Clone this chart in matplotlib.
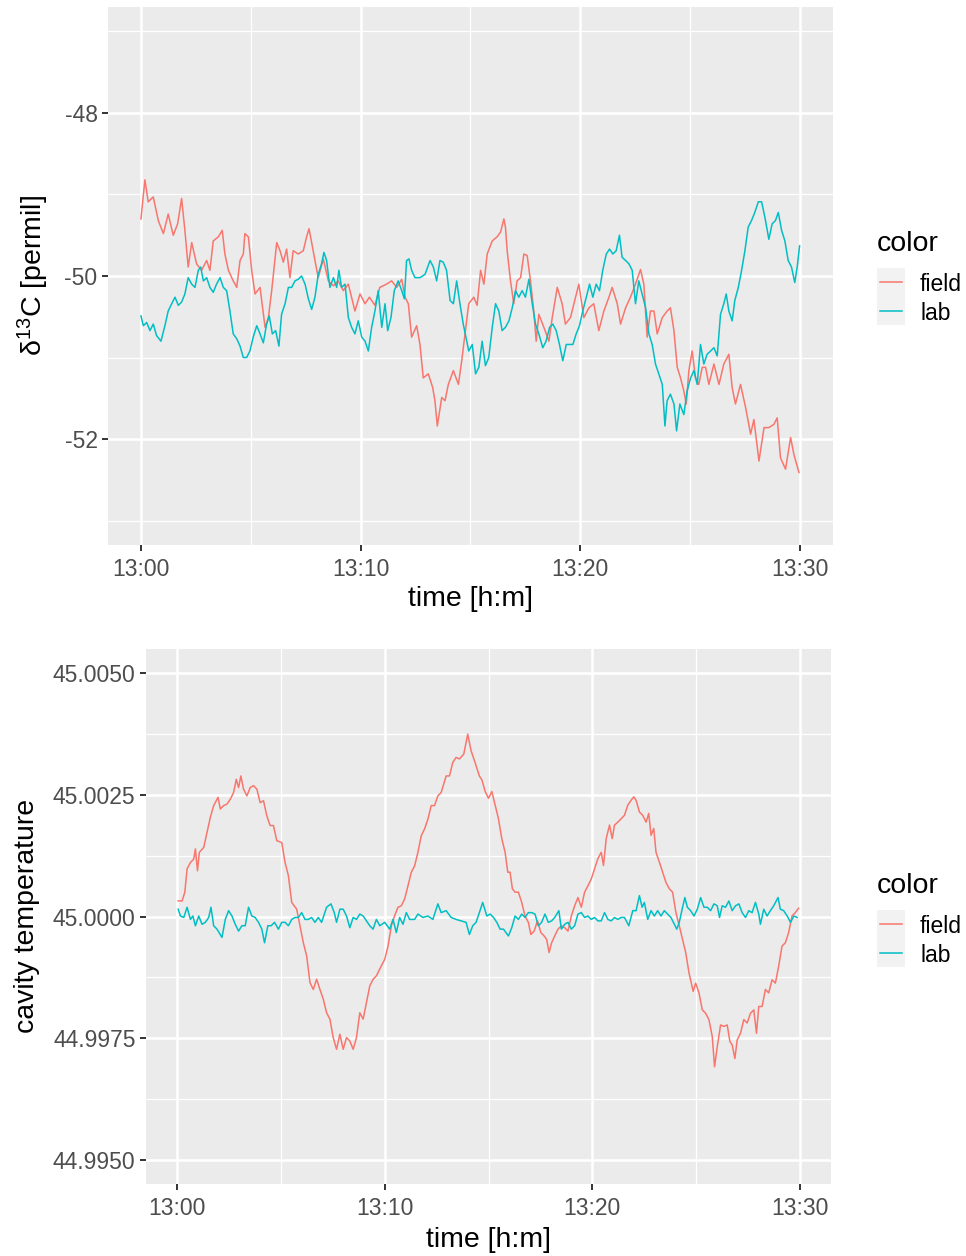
import matplotlib
matplotlib.use('Agg')
import matplotlib.pyplot as plt
from matplotlib.lines import Line2D
from matplotlib.patches import Rectangle

plt.rcParams['font.family'] = ['Liberation Sans', 'DejaVu Sans']
plt.rcParams['axes.unicode_minus'] = False

# ---------------- data (time in minutes after 13:00) ----------------
tick_minutes = [0, 10, 20, 30]
tick_labels = ['13:00', '13:10', '13:20', '13:30']
minor_minutes = [5, 15, 25]

d13c_field = [
    (0, -49.30), (0.18, -48.82), (0.33, -49.09), (0.56, -49.03), (0.79, -49.32), (1.02, -49.48),
    (1.24, -49.24), (1.47, -49.50), (1.67, -49.36), (1.85, -49.05), (2.0, -49.44), (2.15, -49.89),
    (2.31, -49.59), (2.53, -49.85), (2.76, -49.93), (2.99, -49.81), (3.14, -49.93), (3.29, -49.57),
    (3.52, -49.52), (3.70, -49.44), (3.82, -49.73), (3.98, -49.93), (4.20, -50.06), (4.36, -50.14),
    (4.51, -49.81), (4.66, -49.73), (4.73, -49.48), (4.89, -49.52), (5.04, -49.93), (5.19, -50.22),
    (5.42, -50.14), (5.65, -50.63), (5.80, -50.51), (5.95, -50.18), (6.18, -49.59), (6.33, -49.69),
    (6.48, -49.83), (6.63, -49.67), (6.78, -50.02), (6.93, -49.69), (7.16, -49.73), (7.39, -49.69),
    (7.54, -49.52), (7.65, -49.42), (7.77, -49.59), (7.92, -49.81), (8.07, -50.02), (8.30, -49.79),
    (8.53, -50.06), (8.76, -50.12), (8.98, -50.06), (9.21, -50.18), (9.44, -50.10), (9.74, -50.43),
    (9.97, -50.22), (10.2, -50.34), (10.4, -50.26), (10.65, -50.36), (10.87, -50.14), (11.18, -50.10),
    (11.41, -50.06), (11.64, -50.14), (11.87, -50.04), (12.02, -50.26), (12.17, -50.34), (12.32, -50.75),
    (12.55, -50.61), (12.70, -50.84), (12.85, -51.25), (13.08, -51.20), (13.28, -51.37), (13.38, -51.53),
    (13.49, -51.84), (13.69, -51.49), (13.84, -51.53), (13.99, -51.33), (14.22, -51.16), (14.45, -51.33),
    (14.60, -51.04), (14.75, -50.71), (14.92, -50.34), (15.15, -50.26), (15.30, -50.36), (15.46, -49.93),
    (15.61, -50.10), (15.76, -49.73), (15.99, -49.57), (16.21, -49.52), (16.37, -49.46), (16.52, -49.30),
    (16.59, -49.40), (16.67, -49.69), (16.82, -50.06), (16.97, -50.34), (17.12, -50.06), (17.28, -50.02),
    (17.43, -49.73), (17.58, -49.75), (17.73, -50.06), (17.88, -50.43), (17.99, -50.80), (18.11, -50.47),
    (18.34, -50.63), (18.57, -50.80), (18.72, -50.51), (18.95, -50.14), (19.17, -50.34), (19.32, -50.59),
    (19.55, -50.51), (19.78, -50.26), (19.93, -50.10), (20.16, -50.51), (20.39, -50.39), (20.61, -50.34),
    (20.84, -50.67), (21.07, -50.43), (21.30, -50.26), (21.45, -50.14), (21.68, -50.34), (21.83, -50.59),
    (22.06, -50.39), (22.28, -50.26), (22.51, -50.10), (22.74, -49.92), (22.89, -50.10), (23.04, -50.75),
    (23.19, -50.43), (23.35, -50.43), (23.50, -50.71), (23.73, -50.51), (23.95, -50.43), (24.10, -50.39),
    (24.26, -50.67), (24.41, -51.12), (24.56, -51.25), (24.71, -51.41), (24.82, -51.57), (24.94, -51.16),
    (25.09, -50.92), (25.24, -51.25), (25.39, -51.33), (25.55, -51.12), (25.70, -51.12), (25.85, -51.33),
    (26.08, -51.08), (26.31, -51.33), (26.53, -51.08), (26.76, -50.96), (26.91, -51.37), (27.06, -51.57),
    (27.29, -51.33), (27.52, -51.61), (27.75, -51.94), (27.90, -51.76), (28.13, -52.27), (28.36, -51.86),
    (28.58, -51.86), (28.81, -51.82), (28.96, -51.74), (29.11, -52.23), (29.34, -52.37), (29.57, -51.98),
    (29.72, -52.19), (29.95, -52.41),
]

d13c_lab = [
    (0, -50.49), (0.11, -50.61), (0.26, -50.57), (0.41, -50.67), (0.56, -50.59), (0.71, -50.73),
    (0.91, -50.80), (1.09, -50.61), (1.24, -50.43), (1.40, -50.34), (1.55, -50.26), (1.70, -50.36),
    (1.85, -50.32), (2.00, -50.22), (2.15, -50.02), (2.31, -50.10), (2.46, -50.14), (2.61, -49.93),
    (2.72, -49.89), (2.84, -50.06), (2.99, -50.02), (3.14, -50.14), (3.29, -50.20), (3.44, -50.10),
    (3.60, -50.02), (3.75, -50.14), (3.90, -50.18), (4.05, -50.43), (4.20, -50.71), (4.36, -50.77),
    (4.51, -50.86), (4.66, -51.00), (4.81, -51.00), (4.96, -50.92), (5.11, -50.75), (5.27, -50.61),
    (5.42, -50.71), (5.57, -50.82), (5.72, -50.59), (5.84, -50.49), (5.98, -50.71), (6.13, -50.67),
    (6.28, -50.86), (6.40, -50.47), (6.56, -50.34), (6.71, -50.14), (6.86, -50.14), (7.01, -50.06),
    (7.16, -50.04), (7.31, -50.00), (7.47, -50.10), (7.62, -50.28), (7.77, -50.41), (7.92, -50.26),
    (8.07, -49.98), (8.22, -49.85), (8.33, -49.71), (8.45, -49.81), (8.60, -50.14), (8.76, -50.02),
    (8.91, -50.14), (9.01, -49.93), (9.13, -50.14), (9.29, -50.10), (9.44, -50.51), (9.59, -50.63),
    (9.74, -50.71), (9.89, -50.55), (10.05, -50.75), (10.20, -50.80), (10.35, -50.92), (10.50, -50.63),
    (10.65, -50.43), (10.80, -50.18), (10.96, -50.63), (11.11, -50.34), (11.23, -50.67), (11.38, -50.51),
    (11.53, -50.18), (11.71, -50.06), (11.87, -50.18), (11.99, -50.28), (12.09, -49.81), (12.20, -49.79),
    (12.32, -49.93), (12.47, -50.02), (12.70, -50.02), (12.93, -49.98), (13.16, -49.81), (13.31, -49.89),
    (13.46, -50.06), (13.61, -49.81), (13.76, -49.83), (13.91, -49.93), (14.07, -50.30), (14.22, -50.34),
    (14.37, -50.06), (14.52, -50.34), (14.67, -50.59), (14.92, -50.92), (15.08, -50.84), (15.23, -51.20),
    (15.38, -51.12), (15.53, -50.80), (15.68, -51.10), (15.83, -51.00), (15.99, -50.63), (16.14, -50.34),
    (16.29, -50.43), (16.44, -50.67), (16.59, -50.63), (16.75, -50.55), (16.90, -50.39), (17.05, -50.18),
    (17.20, -50.26), (17.35, -50.18), (17.50, -50.26), (17.66, -50.04), (17.81, -50.34), (17.96, -50.59),
    (18.11, -50.71), (18.29, -50.88), (18.44, -50.80), (18.60, -50.63), (18.75, -50.59), (18.90, -50.67),
    (19.05, -50.84), (19.20, -51.04), (19.36, -50.84), (19.51, -50.84), (19.66, -50.84), (19.81, -50.71),
    (19.96, -50.61), (20.11, -50.43), (20.27, -50.26), (20.42, -50.10), (20.57, -50.26), (20.72, -50.10),
    (20.87, -50.18), (21.02, -49.93), (21.18, -49.73), (21.33, -49.67), (21.48, -49.73), (21.63, -49.69),
    (21.78, -49.50), (21.90, -49.77), (22.06, -49.81), (22.21, -49.85), (22.36, -49.93), (22.51, -50.34),
    (22.66, -50.06), (22.81, -50.22), (22.97, -50.39), (23.12, -50.71), (23.27, -50.84), (23.42, -51.08),
    (23.57, -51.20), (23.73, -51.33), (23.85, -51.84), (23.95, -51.53), (24.10, -51.45), (24.26, -51.57),
    (24.38, -51.90), (24.53, -51.57), (24.71, -51.70), (24.86, -51.41), (25.02, -51.25), (25.17, -51.16),
    (25.32, -51.33), (25.47, -50.84), (25.62, -51.08), (25.77, -50.96), (25.93, -50.92), (26.08, -50.88),
    (26.23, -50.98), (26.38, -50.47), (26.53, -50.34), (26.64, -50.22), (26.76, -50.43), (26.91, -50.55),
    (27.03, -50.30), (27.19, -50.14), (27.34, -49.93), (27.49, -49.69), (27.64, -49.40), (27.79, -49.32),
    (27.94, -49.22), (28.10, -49.09), (28.25, -49.09), (28.40, -49.28), (28.58, -49.55), (28.73, -49.36),
    (28.88, -49.32), (29.01, -49.22), (29.16, -49.44), (29.31, -49.57), (29.46, -49.81), (29.61, -49.89),
    (29.76, -50.08), (29.87, -49.89), (29.98, -49.63),
]

temp_field = [
    (0.05, 45.00032), (0.24, 45.00032), (0.37, 45.00050), (0.48, 45.00098), (0.64, 45.00111), (0.80, 45.00118),
    (0.88, 45.00139), (0.98, 45.00094), (1.07, 45.00132), (1.28, 45.00142), (1.44, 45.00173), (1.60, 45.00204),
    (1.76, 45.00228), (1.97, 45.00245), (2.08, 45.00221), (2.24, 45.00228), (2.40, 45.00231), (2.56, 45.00241),
    (2.72, 45.00255), (2.85, 45.00282), (2.96, 45.00265), (3.07, 45.00289), (3.20, 45.00262), (3.36, 45.00248),
    (3.52, 45.00265), (3.68, 45.00269), (3.84, 45.00262), (4.00, 45.00234), (4.16, 45.00238), (4.32, 45.00207),
    (4.48, 45.00187), (4.64, 45.00187), (4.80, 45.00156), (5.04, 45.00152), (5.20, 45.00111), (5.36, 45.00084),
    (5.52, 45.00029), (5.76, 45.00015), (5.92, 44.99981), (6.08, 44.99946), (6.24, 44.99919), (6.40, 44.99864),
    (6.56, 44.99850), (6.72, 44.99871), (6.88, 44.99850), (7.04, 44.99830), (7.20, 44.99802), (7.36, 44.99789),
    (7.52, 44.99751), (7.68, 44.99727), (7.84, 44.99758), (8.00, 44.99727), (8.16, 44.99751), (8.32, 44.99744),
    (8.48, 44.99727), (8.64, 44.99751), (8.80, 44.99802), (8.96, 44.99789), (9.12, 44.99823), (9.28, 44.99857),
    (9.44, 44.99871), (9.60, 44.99878), (9.76, 44.99892), (10.00, 44.99912), (10.16, 44.99939), (10.32, 44.99981),
    (10.48, 45.00002), (10.64, 45.00019), (10.80, 45.00022), (10.96, 45.00036), (11.12, 45.00063), (11.28, 45.00091),
    (11.44, 45.00104), (11.60, 45.00132), (11.76, 45.00166), (11.92, 45.00180), (12.08, 45.00200), (12.24, 45.00228),
    (12.40, 45.00228), (12.56, 45.00248), (12.72, 45.00255), (12.96, 45.00289), (13.12, 45.00289), (13.28, 45.00317),
    (13.44, 45.00327), (13.60, 45.00324), (13.81, 45.00334), (14.00, 45.00375), (14.16, 45.00341), (14.35, 45.00317),
    (14.56, 45.00289), (14.68, 45.00281), (14.84, 45.00257), (15.00, 45.00243), (15.16, 45.00257), (15.32, 45.00229),
    (15.48, 45.00201), (15.64, 45.00160), (15.80, 45.00132), (15.93, 45.00091), (16.04, 45.00091), (16.15, 45.00057),
    (16.28, 45.00050), (16.44, 45.00050), (16.60, 45.00029), (16.76, 45.00001), (16.92, 44.99988), (17.04, 44.99963),
    (17.20, 44.99970), (17.36, 44.99991), (17.52, 44.99967), (17.68, 44.99960), (17.80, 44.99953), (17.92, 44.99926),
    (18.04, 44.99946), (18.19, 44.99960), (18.35, 44.99974), (18.51, 44.99981), (18.67, 44.99977), (18.83, 44.99970),
    (18.99, 45.00001), (19.15, 45.00022), (19.31, 45.00039), (19.47, 45.00019), (19.63, 45.00050), (19.79, 45.00063),
    (19.95, 45.00077), (20.11, 45.00098), (20.27, 45.00119), (20.43, 45.00132), (20.54, 45.00105), (20.67, 45.00160),
    (20.83, 45.00188), (20.96, 45.00160), (21.07, 45.00188), (21.23, 45.00194), (21.39, 45.00201), (21.55, 45.00208),
    (21.71, 45.00229), (21.87, 45.00239), (22.00, 45.00246), (22.11, 45.00239), (22.27, 45.00215), (22.43, 45.00208),
    (22.59, 45.00194), (22.72, 45.00212), (22.83, 45.00167), (22.96, 45.00181), (23.07, 45.00132), (23.23, 45.00112),
    (23.39, 45.00091), (23.55, 45.00070), (23.71, 45.00057), (23.87, 45.00050), (24.03, 45.00008), (24.19, 44.99981),
    (24.35, 44.99953), (24.50, 44.99926), (24.66, 44.99884), (24.86, 44.99846), (24.98, 44.99863), (25.14, 44.99843),
    (25.30, 44.99808), (25.46, 44.99801), (25.62, 44.99788), (25.78, 44.99753), (25.89, 44.99691), (26.02, 44.99732),
    (26.18, 44.99777), (26.34, 44.99774), (26.50, 44.99777), (26.63, 44.99743), (26.74, 44.99736), (26.87, 44.99708),
    (26.98, 44.99746), (27.14, 44.99760), (27.30, 44.99788), (27.46, 44.99781), (27.62, 44.99801), (27.78, 44.99808),
    (27.91, 44.99760), (28.02, 44.99815), (28.18, 44.99815), (28.34, 44.99850), (28.50, 44.99843), (28.66, 44.99870),
    (28.82, 44.99863), (28.98, 44.99898), (29.14, 44.99939), (29.30, 44.99946), (29.46, 44.99967), (29.62, 45.00001),
    (29.78, 45.00008), (29.94, 45.00017),
]

temp_lab = [
    (0.05, 45.00015), (0.16, 45.00001), (0.32, 44.99998), (0.48, 45.00019), (0.64, 44.99994), (0.76, 45.00001),
    (0.88, 44.99981), (1.04, 45.00001), (1.20, 44.99984), (1.36, 44.99988), (1.52, 44.99998), (1.63, 45.00019),
    (1.76, 44.99981), (1.92, 44.99974), (2.16, 44.99957), (2.32, 44.99994), (2.48, 45.00012), (2.64, 45.00001),
    (2.80, 44.99984), (2.96, 44.99970), (3.12, 44.99981), (3.28, 44.99981), (3.44, 45.00019), (3.60, 45.00001),
    (3.76, 44.99998), (3.92, 44.99988), (4.08, 44.99974), (4.21, 44.99946), (4.37, 44.99981), (4.53, 44.99981),
    (4.69, 44.99988), (4.88, 44.99974), (5.04, 44.99988), (5.20, 44.99988), (5.36, 44.99981), (5.52, 44.99994),
    (5.68, 44.99998), (5.84, 44.99998), (6.00, 45.00008), (6.16, 44.99994), (6.32, 44.99994), (6.48, 44.99998),
    (6.64, 44.99988), (6.80, 44.99998), (6.96, 44.99988), (7.20, 45.00019), (7.41, 45.00026), (7.57, 45.00008),
    (7.68, 44.99988), (7.84, 45.00015), (8.00, 45.00015), (8.16, 45.00001), (8.32, 44.99977), (8.48, 44.99998),
    (8.64, 44.99994), (8.80, 45.00005), (8.96, 45.00001), (9.12, 44.99991), (9.28, 44.99981), (9.44, 44.99974),
    (9.60, 44.99994), (9.76, 44.99981), (10.00, 44.99988), (10.24, 44.99974), (10.40, 44.99994), (10.56, 44.99967),
    (10.72, 44.99998), (10.88, 44.99984), (11.04, 45.00008), (11.20, 44.99994), (11.44, 44.99994), (11.60, 45.00005),
    (11.84, 44.99998), (12.08, 45.00001), (12.32, 44.99994), (12.56, 45.00026), (12.72, 45.00008), (12.96, 45.00012),
    (13.20, 44.99998), (13.44, 44.99994), (13.68, 44.99991), (13.92, 44.99988), (14.08, 44.99963), (14.24, 44.99981),
    (14.40, 44.99988), (14.56, 45.00008), (14.72, 45.00029), (14.92, 45.00001), (15.08, 45.00005), (15.24, 44.99998),
    (15.40, 44.99988), (15.56, 44.99974), (15.72, 44.99974), (15.96, 44.99960), (16.12, 44.99977), (16.28, 45.00001),
    (16.44, 44.99994), (16.60, 45.00005), (16.76, 44.99998), (16.92, 45.00008), (17.08, 45.00008), (17.24, 45.00005),
    (17.40, 44.99981), (17.56, 44.99988), (17.72, 45.00005), (17.88, 44.99988), (18.04, 44.99991), (18.19, 44.99998),
    (18.39, 45.00012), (18.51, 44.99974), (18.67, 44.99984), (18.83, 44.99988), (18.99, 44.99974), (19.15, 44.99981),
    (19.31, 45.00005), (19.47, 45.00008), (19.63, 44.99998), (19.79, 45.00001), (19.95, 44.99994), (20.11, 44.99998),
    (20.27, 44.99991), (20.43, 44.99991), (20.59, 45.00008), (20.75, 44.99994), (20.91, 44.99991), (21.07, 44.99998),
    (21.23, 44.99994), (21.39, 44.99998), (21.55, 44.99998), (21.76, 44.99981), (21.95, 45.00012), (22.11, 45.00012),
    (22.27, 45.00043), (22.40, 45.00019), (22.51, 45.00029), (22.67, 44.99994), (22.83, 45.00012), (22.99, 45.00001),
    (23.15, 45.00012), (23.31, 45.00001), (23.47, 45.00012), (23.63, 45.00005), (23.79, 44.99998), (23.95, 44.99984),
    (24.07, 44.99974), (24.19, 44.99988), (24.35, 45.00019), (24.46, 45.00039), (24.58, 45.00019), (24.74, 45.00012),
    (24.90, 45.00001), (25.06, 45.00015), (25.22, 45.00039), (25.38, 45.00019), (25.54, 45.00019), (25.70, 45.00012),
    (25.86, 45.00026), (26.02, 45.00022), (26.13, 44.99998), (26.26, 45.00022), (26.42, 45.00019), (26.58, 45.00032),
    (26.74, 45.00012), (26.90, 45.00022), (27.06, 45.00026), (27.22, 45.00008), (27.38, 44.99998), (27.54, 45.00012),
    (27.70, 45.00008), (27.86, 45.00029), (28.02, 45.00005), (28.10, 44.99984), (28.26, 45.00015), (28.42, 45.00001),
    (28.58, 45.00012), (28.74, 45.00022), (28.95, 45.00039), (29.06, 45.00015), (29.22, 45.00012), (29.39, 45.00001),
    (29.55, 44.99988), (29.71, 45.00001), (29.87, 44.99998),
]

series_names = ['field', 'lab']
series_colors = ['#F8766D', '#00BFC4']

# ---------------- layout ----------------
W, H = 966, 1256
fig = plt.figure(figsize=(W / 100, H / 100), dpi=100)


def box(l, t, r, b):
    return [l / W, 1 - b / H, (r - l) / W, (b - t) / H]


ax1 = fig.add_axes(box(108, 7, 833, 545))
ax2 = fig.add_axes(box(146, 649, 831, 1184))


def style(ax):
    ax.set_facecolor('#EBEBEB')
    for s in ax.spines.values():
        s.set_visible(False)
    ax.set_axisbelow(True)
    ax.grid(which='major', color='white', linewidth=1.8)
    ax.grid(which='minor', color='white', linewidth=0.9)
    ax.tick_params(which='major', length=4.5, width=1.4, color='#333333',
                   labelsize=16.5, labelcolor='#4D4D4D')
    ax.tick_params(axis='x', which='major', pad=5)
    ax.tick_params(axis='y', which='major', pad=3)
    ax.tick_params(which='minor', length=0)
    ax.set_xticks(tick_minutes)
    ax.set_xticklabels(tick_labels)
    ax.set_xticks(minor_minutes, minor=True)
    ax.set_xlim(-1.5, 31.5)


style(ax1)
style(ax2)

for data, c in zip([d13c_field, d13c_lab], series_colors):
    ax1.plot([p[0] for p in data], [p[1] for p in data], color=c, lw=1.1)
ax1.set_ylim(-53.3, -46.7)
ax1.set_yticks([-52, -50, -48])
ax1.set_yticklabels(['-52', '-50', '-48'])
ax1.set_yticks([-53, -51, -49, -47], minor=True)

for data, c in zip([temp_field, temp_lab], series_colors):
    ax2.plot([p[0] for p in data], [p[1] for p in data], color=c, lw=1.1)
ax2.set_ylim(44.9945, 45.0055)
yt2 = [44.995, 44.9975, 45.0, 45.0025, 45.005]
ax2.set_yticks(yt2)
ax2.set_yticklabels(['%.4f' % v for v in yt2])
ax2.set_yticks([44.99625, 44.99875, 45.00125, 45.00375], minor=True)

# axis titles
fig.text(470 / W, 1 - 599 / H, 'time [h:m]', ha='center', va='center', fontsize=20.5, color='black')
fig.text(488 / W, 1 - 1240 / H, 'time [h:m]', ha='center', va='center', fontsize=20.5, color='black')
fig.text(33 / W, 1 - 276 / H, r'$\mathregular{\delta^{13}}$C [permil]', ha='center', va='center',
         rotation=90, fontsize=20.5, color='black')
fig.text(27 / W, 1 - 916 / H, 'cavity temperature', ha='center', va='center',
         rotation=90, fontsize=20.5, color='black')


# legends
def legend(top):
    fig.text(877 / W, 1 - (top + 9) / H, 'color', ha='left', va='baseline', fontsize=20.5)
    fig.add_artist(Rectangle((877 / W, 1 - (top + 83) / H), 28 / W, 57 / H,
                             transform=fig.transFigure, facecolor='#F2F2F2', edgecolor='none'))
    for i, (name, c) in enumerate(zip(series_names, series_colors)):
        y = top + 40 + 28.5 * i
        fig.add_artist(Line2D([880 / W, 902 / W], [1 - y / H, 1 - y / H],
                              transform=fig.transFigure, color=c, lw=1.1))
        fig.text(920 / W, 1 - (y + 2.5) / H, name, ha='left', va='center', fontsize=16.5)


legend(242)
legend(884)

fig.savefig('out.png', dpi=100)
